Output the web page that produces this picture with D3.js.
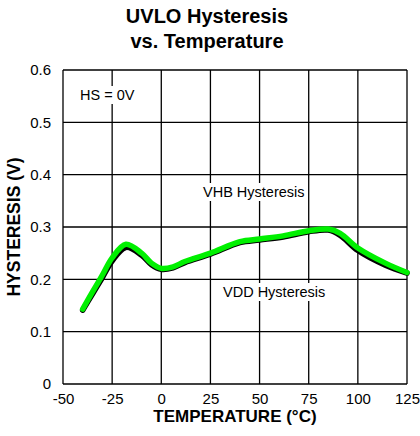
<!DOCTYPE html>
<html>
<head>
<meta charset="utf-8">
<script src="https://cdn.jsdelivr.net/npm/d3@7"></script>
<style>
  body { margin: 0; background: #fff; }
  svg { font-family: "Liberation Sans", Arial, sans-serif; }
</style>
</head>
<body>
<div id="viz"></div>
<script>
// values
const temps  = [-40, -35, -30, -25, -18, -10, -5, 0, 6, 12, 25, 40, 50, 62, 75, 85, 91, 100, 114, 125];
const vhb    = [0.143, 0.176, 0.208, 0.241, 0.267, 0.250, 0.231, 0.221, 0.224, 0.234, 0.250, 0.272, 0.277, 0.283, 0.293, 0.296, 0.288, 0.260, 0.231, 0.213];
const vdd    = [0.141, 0.172, 0.203, 0.235, 0.261, 0.246, 0.228, 0.219, 0.222, 0.232, 0.248, 0.270, 0.275, 0.281, 0.291, 0.294, 0.284, 0.255, 0.227, 0.212];
const xTicks = [-50, -25, 0, 25, 50, 75, 100, 125];
const yTicks = [0, 0.1, 0.2, 0.3, 0.4, 0.5, 0.6];

const fullWidth = 420;
const fullHeight = 436;
const margin = { top: 70, left: 63, right: 13, bottom: 52 };
const width = fullWidth - margin.left - margin.right;
const height = fullHeight - margin.top - margin.bottom;

const svg = d3.select("#viz").append("svg")
    .attr("width", fullWidth)
    .attr("height", fullHeight);

// title
const title = svg.append("text")
    .attr("text-anchor", "middle")
    .style("font-size", "20px")
    .style("font-weight", "bold");
title.append("tspan").attr("x", 207).attr("y", 22.5).text("UVLO Hysteresis");
title.append("tspan").attr("x", 207).attr("y", 48).text("vs. Temperature");

const g = svg.append("g")
    .attr("transform", "translate(" + margin.left + "," + margin.top + ")");

const xScale = d3.scaleLinear().domain([-50, 125]).range([0, width]);
const yScale = d3.scaleLinear().domain([0, 0.6]).range([height, 0]);

// grid
g.selectAll(".vgrid").data(xTicks).enter().append("line")
    .attr("x1", d => xScale(d)).attr("x2", d => xScale(d))
    .attr("y1", 0).attr("y2", height)
    .attr("stroke", "#000").attr("stroke-width", 1.3);
g.selectAll(".hgrid").data(yTicks).enter().append("line")
    .attr("x1", 0).attr("x2", width)
    .attr("y1", d => yScale(d)).attr("y2", d => yScale(d))
    .attr("stroke", "#000").attr("stroke-width", 1.3);

// tick labels
const xAxis = d3.axisBottom(xScale).tickValues(xTicks).tickSize(0).tickPadding(9)
    .tickFormat(d => String(d));
const xg = g.append("g").attr("transform", "translate(0," + height + ")").call(xAxis);
const yAxis = d3.axisLeft(yScale).tickValues(yTicks).tickSize(0).tickPadding(12)
    .tickFormat(d => d === 0 ? "0" : d3.format(".1f")(d));
const yg = g.append("g").call(yAxis);
[xg, yg].forEach(a => {
    a.select(".domain").remove();
    a.selectAll("text")
        .style("font-size", "15px")
        .style("font-family", "'Liberation Sans', Arial, sans-serif")
        .attr("fill", "#000");
});

// axis titles
svg.append("text")
    .attr("x", margin.left + width / 2).attr("y", 421.5)
    .attr("text-anchor", "middle")
    .style("font-size", "17px").style("font-weight", "bold")
    .text("TEMPERATURE (°C)");
svg.append("text")
    .attr("transform", "translate(19.5," + (margin.top + height / 2) + ") rotate(-90)")
    .attr("text-anchor", "middle")
    .style("font-size", "17.5px").style("font-weight", "bold")
    .text("HYSTERESIS (V)");

// labels with white boxes
function label(text, x, y) {
    const t = g.append("text")
        .attr("x", x).attr("y", y)
        .style("font-size", "14.5px")
        .text(text);
    const bb = t.node().getBBox();
    g.insert("rect", function() { return t.node(); })
        .attr("x", bb.x - 2).attr("y", bb.y - 1)
        .attr("width", bb.width + 4).attr("height", bb.height + 2)
        .attr("fill", "#fff");
}
label("HS = 0V", 17, 30);
label("VHB Hysteresis", 140, 127);
label("VDD Hysteresis", 160, 227);

// curves
const line = d3.line()
    .x((d, i) => xScale(temps[i]))
    .y(d => yScale(d))
    .curve(d3.curveCatmullRom.alpha(0.5));

g.append("path").datum(vdd)
    .attr("fill", "none").attr("stroke", "#000")
    .attr("stroke-width", 5.5).attr("stroke-linecap", "round").attr("stroke-linejoin", "round")
    .attr("d", line);
g.append("path").datum(vhb)
    .attr("fill", "none").attr("stroke", "#00f000")
    .attr("stroke-width", 5.5).attr("stroke-linecap", "round").attr("stroke-linejoin", "round")
    .attr("d", line);
</script>
</body>
</html>
